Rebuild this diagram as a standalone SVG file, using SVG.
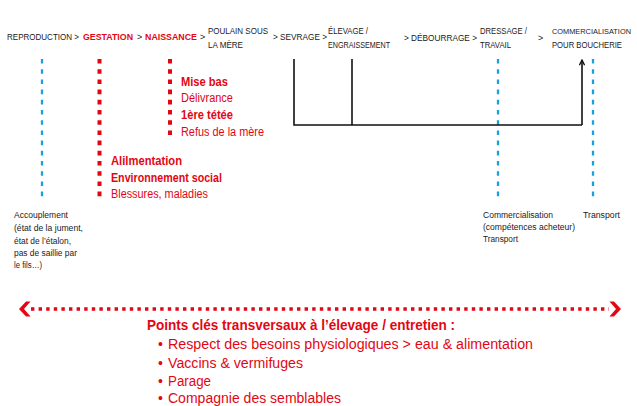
<svg xmlns="http://www.w3.org/2000/svg" width="637" height="406" viewBox="0 0 637 406">
<style>
text{font-family:"Liberation Sans",Arial,sans-serif;}
.top{font-size:9px;fill:#1a1a1a;}
.topr{font-size:9.5px;fill:#e30613;font-weight:bold;}
.mid{font-size:12.5px;fill:#e30613;}
.midb{font-size:12.5px;fill:#e30613;font-weight:bold;}
.sm{font-size:8.5px;fill:#1a1a1a;}
.bt{font-size:14px;fill:#e30613;}
.btb{font-size:14px;fill:#e30613;font-weight:bold;}
.blue{stroke:#1aa0e0;stroke-width:2.3;stroke-dasharray:4.6 5.6;fill:none;}
.red{stroke:#e30613;stroke-width:4;stroke-dasharray:4.6 5.6;fill:none;}
.blk{stroke:#111;stroke-width:1.6;fill:none;}
</style>
<defs>
<marker id="ah" viewBox="0 0 10 10" refX="9" refY="5" markerWidth="4" markerHeight="4" orient="auto">
<path d="M1,1 L9,5 L1,9" fill="none" stroke="#111" stroke-width="2"/>
</marker>
</defs>
<rect width="637" height="406" fill="#fff"/>

<g id="stages">
<text class="top" x="7" y="40" textLength="72" lengthAdjust="spacingAndGlyphs">REPRODUCTION &gt;</text>
<text class="topr" x="83" y="40" textLength="50" lengthAdjust="spacingAndGlyphs">GESTATION</text>
<text class="top" x="137" y="40">&gt;</text>
<text class="topr" x="145" y="40" textLength="52" lengthAdjust="spacingAndGlyphs">NAISSANCE</text>
<text class="top" x="200" y="40">&gt;</text>
<text class="top" x="208" y="34" textLength="60" lengthAdjust="spacingAndGlyphs">POULAIN SOUS</text>
<text class="top" x="208" y="48" textLength="35" lengthAdjust="spacingAndGlyphs">LA MÈRE</text>
<text class="top" x="273" y="40" textLength="54" lengthAdjust="spacingAndGlyphs">&gt; SEVRAGE &gt;</text>
<text class="top" x="328" y="34" textLength="40" lengthAdjust="spacingAndGlyphs">ÉLEVAGE /</text>
<text class="top" x="328" y="48" textLength="62" lengthAdjust="spacingAndGlyphs">ENGRAISSEMENT</text>
<text class="top" x="404" y="41" textLength="73" lengthAdjust="spacingAndGlyphs">&gt; DÉBOURRAGE &gt;</text>
<text class="top" x="480" y="34" textLength="47" lengthAdjust="spacingAndGlyphs">DRESSAGE /</text>
<text class="top" x="480" y="48" textLength="31" lengthAdjust="spacingAndGlyphs">TRAVAIL</text>
<text class="top" x="538" y="41">&gt;</text>
<text class="top" x="552" y="34" style="font-size:7.8px" textLength="79" lengthAdjust="spacingAndGlyphs">COMMERCIALISATION</text>
<text class="top" x="552" y="48" textLength="70" lengthAdjust="spacingAndGlyphs">POUR BOUCHERIE</text>
</g>

<g id="connectors">
<line class="blue" x1="42" y1="59" x2="42" y2="200"/>
<line class="red" x1="99.5" y1="59" x2="99.5" y2="200"/>
<line class="red" x1="170" y1="59" x2="170" y2="139"/>
<line class="blue" x1="498" y1="59" x2="498" y2="200"/>
<line class="blue" x1="593" y1="59" x2="593" y2="200"/>
<path class="blk" d="M294,59 V125 H582"/>
<line class="blk" x1="352" y1="59" x2="352" y2="125"/>
<line class="blk" x1="582" y1="125" x2="582" y2="60" marker-end="url(#ah)"/>
<line x1="31" y1="309" x2="609" y2="309" stroke="#e30613" stroke-width="3.6" stroke-dasharray="3.4 4.2"/>
<polygon points="19,309 26,301.5 30.5,301.5 24,309 30.5,316.5 26,316.5" fill="#e30613"/>
<polygon points="621,309 614,301.5 609.5,301.5 616,309 609.5,316.5 614,316.5" fill="#e30613"/>
</g>

<g id="naissance-notes">
<text class="midb" x="181" y="86" textLength="47" lengthAdjust="spacingAndGlyphs">Mise bas</text>
<text class="mid" x="181" y="102" textLength="52" lengthAdjust="spacingAndGlyphs">Délivrance</text>
<text class="midb" x="181" y="119" textLength="52" lengthAdjust="spacingAndGlyphs">1ère tétée</text>
<text class="mid" x="181" y="136" textLength="83" lengthAdjust="spacingAndGlyphs">Refus de la mère</text>
</g>

<g id="gestation-notes">
<text class="midb" x="111" y="165" textLength="71" lengthAdjust="spacingAndGlyphs">Alilmentation</text>
<text class="midb" x="111" y="182" textLength="111" lengthAdjust="spacingAndGlyphs">Environnement social</text>
<text class="mid" x="111" y="198" textLength="97" lengthAdjust="spacingAndGlyphs">Blessures, maladies</text>
</g>

<g id="reproduction-notes">
<text class="sm" x="14" y="218" textLength="54" lengthAdjust="spacingAndGlyphs">Accouplement</text>
<text class="sm" x="14" y="231" textLength="69" lengthAdjust="spacingAndGlyphs">(état de la jument,</text>
<text class="sm" x="14" y="244" textLength="57" lengthAdjust="spacingAndGlyphs">état de l’étalon,</text>
<text class="sm" x="14" y="256" textLength="63" lengthAdjust="spacingAndGlyphs">pas de saillie par</text>
<text class="sm" x="14" y="268" textLength="28" lengthAdjust="spacingAndGlyphs">le fils…)</text>
</g>

<g id="dressage-notes">
<text class="sm" x="483" y="218" textLength="70" lengthAdjust="spacingAndGlyphs">Commercialisation</text>
<text class="sm" x="483" y="230" textLength="92" lengthAdjust="spacingAndGlyphs">(compétences acheteur)</text>
<text class="sm" x="483" y="242" textLength="35" lengthAdjust="spacingAndGlyphs">Transport</text>
</g>

<g id="commercialisation-notes">
<text class="sm" x="583" y="218" textLength="37" lengthAdjust="spacingAndGlyphs">Transport</text>
</g>

<g id="transversal">
<text class="btb" x="147" y="330" textLength="308" lengthAdjust="spacingAndGlyphs">Points clés transversaux à l’élevage / entretien :</text>
<text class="bt" x="158" y="349">•</text>
<text class="bt" x="168" y="349" textLength="365" lengthAdjust="spacingAndGlyphs">Respect des besoins physiologiques &gt; eau &amp; alimentation</text>
<text class="bt" x="158" y="368">•</text>
<text class="bt" x="168" y="368" textLength="135" lengthAdjust="spacingAndGlyphs">Vaccins &amp; vermifuges</text>
<text class="bt" x="158" y="386">•</text>
<text class="bt" x="168" y="386" textLength="43" lengthAdjust="spacingAndGlyphs">Parage</text>
<text class="bt" x="158" y="403">•</text>
<text class="bt" x="168" y="403" textLength="173" lengthAdjust="spacingAndGlyphs">Compagnie des semblables</text>
</g>
</svg>
